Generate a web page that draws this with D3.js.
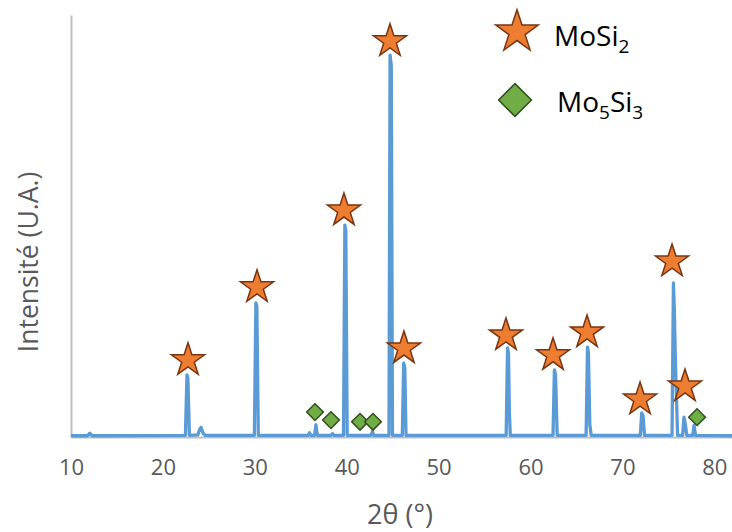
<!DOCTYPE html>
<html>
<head>
<meta charset="utf-8">
<script src="https://cdn.jsdelivr.net/npm/d3@7"></script>
<style>
  html, body { margin: 0; padding: 0; background: #fff; }
  svg { display: block; font-family: "Open Sans", "Noto Sans", sans-serif; }
</style>
</head>
<body>
<svg id="chart" width="732" height="532"></svg>
<script>
// ---- Data ----
const twoTheta = [10, 11.8, 12.05, 12.3,
  22.45, 22.62, 22.72, 22.88,
  23.8, 24.0, 24.15, 24.35, 24.6,
  29.95, 30.12, 30.22, 30.38,
  35.8, 35.95, 36.1,
  36.5, 36.65, 36.8,
  38.3, 38.45, 38.6,
  39.65, 39.8, 39.9, 40.05,
  42.65, 42.8, 42.95,
  44.6, 44.72, 44.85, 44.98,
  46.05, 46.2, 46.32, 46.45,
  57.35, 57.5, 57.6, 57.7, 57.8,
  62.45, 62.6, 62.72, 62.9,
  66.05, 66.2, 66.3, 66.45, 66.6,
  71.95, 72.1, 72.25, 72.4,
  75.4, 75.55, 75.65, 75.75, 75.9, 76.0,
  76.55, 76.7, 76.85, 77.0,
  77.65, 77.8, 77.95,
  82];
const intensity = [0.3, 0.3, 0.9, 0.3,
  0.4, 14.7, 14.0, 0.4,
  0.5, 1.8, 2.3, 1.0, 0.4,
  0.4, 31.8, 31.0, 0.4,
  0.4, 1.0, 0.4,
  0.4, 2.9, 0.4,
  0.4, 0.8, 0.4,
  0.4, 50.2, 49.0, 0.4,
  0.4, 1.3, 0.4,
  0.4, 90.5, 88.0, 0.4,
  0.4, 17.5, 16.5, 0.4,
  0.4, 21.1, 20.0, 6.0, 0.4,
  0.4, 15.9, 14.8, 0.4,
  0.4, 21.3, 20.0, 3.0, 0.4,
  0.4, 5.7, 5.0, 0.4,
  0.4, 36.5, 30.0, 19.2, 8.0, 0.4,
  0.4, 4.7, 3.0, 0.4,
  0.4, 2.8, 0.4,
  0.3];

// MoSi2 peak markers (stars)
const mosi2X = [22.73, 30.24, 39.7, 44.71, 46.23, 57.33, 62.45, 66.15, 71.92, 75.4, 76.81];
const mosi2Y = [18.2, 35.5, 53.7, 93.8, 21.0, 24.1, 19.4, 24.8, 8.9, 41.6, 12.0];
// Mo5Si3 peak markers (diamonds)
const mo5si3X = [36.55, 38.29, 41.45, 42.86, 78.12];
const mo5si3Y = [5.9, 4.0, 3.6, 3.6, 4.7];

const xTicks = [10, 20, 30, 40, 50, 60, 70, 80];
const xTitle = "2θ (°)";
const yTitle = "Intensité (U.A.)";
const legendNames = [["Mo", "Si", "2"], ["Mo", "5", "Si", "3"]];

// ---- Chart ----
const svg = d3.select("#chart");
const x = d3.scaleLinear().domain([10, 82]).range([71, 732.7]);
const y = d3.scaleLinear().domain([0, 100]).range([437, 15]);

const STAR_FILL = "#ED7D31", STAR_STROKE = "#7A3410";
const DIA_FILL = "#70AD47", DIA_STROKE = "#2F4F1C";
const LINE = "#5B9BD5";

// y axis (line only)
const yAx = svg.append("g").attr("transform", `translate(${x(10)},0)`)
  .call(d3.axisLeft(y).tickValues([]).tickSizeOuter(0));
yAx.select(".domain").attr("stroke", "#BFBFBF").attr("stroke-width", 2);

// x axis
const xAx = svg.append("g").attr("transform", `translate(0,${y(0)})`)
  .call(d3.axisBottom(x).tickValues(xTicks).tickSize(0).tickSizeOuter(0).tickPadding(22));
xAx.select(".domain").attr("stroke", "#BFBFBF").attr("stroke-width", 2);
xAx.selectAll("text").attr("fill", "#595959").attr("font-size", 22)
  .attr("font-family", "'Open Sans', sans-serif");

// line
const pts = twoTheta.map((t, i) => [t, intensity[i]]);
svg.append("path").datum(pts)
  .attr("fill", "none").attr("stroke", LINE).attr("stroke-width", 3.3)
  .attr("stroke-linejoin", "round")
  .attr("d", d3.line().x(d => x(d[0])).y(d => y(d[1])));

// markers
const starSym = size => d3.symbol().type(d3.symbolStar).size(size)();
const diaSym = size => d3.symbol().type(d3.symbolSquare).size(size)();

svg.append("g").selectAll("path").data(mosi2X.map((v, i) => [v, mosi2Y[i]]))
  .join("path")
  .attr("d", starSym(340))
  .attr("transform", d => `translate(${x(d[0])},${y(d[1])})`)
  .attr("fill", STAR_FILL).attr("stroke", STAR_STROKE).attr("stroke-width", 1.5);

svg.append("g").selectAll("path").data(mo5si3X.map((v, i) => [v, mo5si3Y[i]]))
  .join("path")
  .attr("d", diaSym(140))
  .attr("transform", d => `translate(${x(d[0])},${y(d[1])}) rotate(45)`)
  .attr("fill", DIA_FILL).attr("stroke", DIA_STROKE).attr("stroke-width", 1.5);

// axis titles
svg.append("text").attr("x", 400).attr("y", 524).attr("text-anchor", "middle")
  .attr("fill", "#595959").attr("font-size", 27).text(xTitle);
svg.append("text").attr("transform", "translate(38,262) rotate(-90)")
  .attr("text-anchor", "middle").attr("fill", "#595959").attr("font-size", 26.5).text(yTitle);

// legend
const lg = svg.append("g");
lg.append("path").attr("d", starSym(560)).attr("transform", "translate(517,32)")
  .attr("fill", STAR_FILL).attr("stroke", STAR_STROKE).attr("stroke-width", 1.5);
lg.append("path").attr("d", diaSym(540)).attr("transform", "translate(515,100) rotate(45)")
  .attr("fill", DIA_FILL).attr("stroke", DIA_STROKE).attr("stroke-width", 1.5);

const t1 = lg.append("text").attr("x", 554).attr("y", 46).attr("fill", "#000").attr("font-size", 28);
t1.append("tspan").text(legendNames[0][0] + legendNames[0][1]);
t1.append("tspan").attr("dy", 7).attr("font-size", 19).text(legendNames[0][2]);

const t2 = lg.append("text").attr("x", 557).attr("y", 112).attr("fill", "#000").attr("font-size", 28);
t2.append("tspan").text(legendNames[1][0]);
t2.append("tspan").attr("dy", 7).attr("font-size", 19).text(legendNames[1][1]);
t2.append("tspan").attr("dy", -7).text(legendNames[1][2]);
t2.append("tspan").attr("dy", 7).attr("font-size", 19).text(legendNames[1][3]);
</script>
</body>
</html>
